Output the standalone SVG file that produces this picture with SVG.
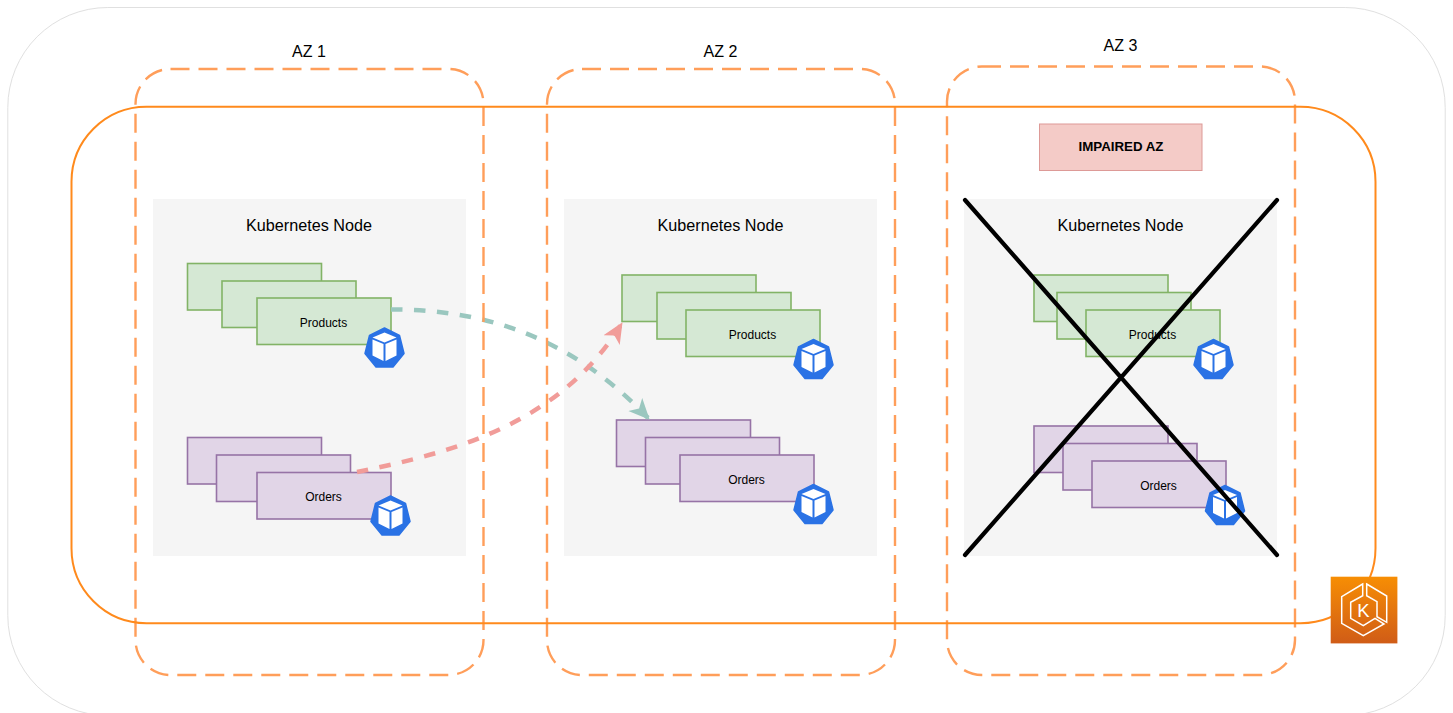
<svg xmlns="http://www.w3.org/2000/svg" width="1453" height="713" viewBox="0 0 1453 713">
<style>
text{font-family:"Liberation Sans",Arial,sans-serif;fill:#000;text-anchor:middle}
.az{font-size:16px}.kn{font-size:16.2px}.pl{font-size:12px}
.zone{fill:none;stroke:#ff9e5a;stroke-width:2.4;stroke-dasharray:19 9}
.node{fill:#f5f5f5}
.g{fill:#d5e8d4;stroke:#82b366;stroke-width:1.6}
.p{fill:#e1d5e7;stroke:#9673a6;stroke-width:1.6}
.x{stroke:#000;stroke-width:4.200;stroke-linecap:round;fill:none}
.c{fill:none;stroke-width:4.500;stroke-dasharray:11.500 11.500}
</style>
<defs>
<marker id="ag" viewBox="0 0 22 22" refX="20" refY="11" markerWidth="22" markerHeight="22" markerUnits="userSpaceOnUse" orient="auto"><path d="M0 1.500L21 11L0 20.500L5.500 11Z" fill="#9ac7bf"/></marker>
<marker id="ar" viewBox="0 0 22 22" refX="20" refY="11" markerWidth="22" markerHeight="22" markerUnits="userSpaceOnUse" orient="auto"><path d="M0 1.500L21 11L0 20.500L5.500 11Z" fill="#f19c99"/></marker>
<linearGradient id="eks" x1="0" y1="0" x2="0" y2="1"><stop offset="0" stop-color="#f78e04"/><stop offset="1" stop-color="#d05c17"/></linearGradient>
<g id="pod">
<path d="M0 -19.500L15 -12L19.500 6L8.500 19.500L-8.500 19.500L-19.500 6L-15 -12Z" fill="#2a72e5" stroke="#2a72e5" stroke-width="1.500" stroke-linejoin="round"/>
<path d="M0 -15L12 -10L0 -5L-12 -10Z" fill="#fff"/>
<path d="M-12 -8L-1 -3.500V13.500L-12 8Z" fill="#fff"/>
<path d="M12 -8L1 -3.500V13.500L12 8Z" fill="#fff"/>
</g>
</defs>
<rect width="1453" height="713" fill="#fff"/>
<rect id="region" x="7.8" y="7.5" width="1437.4" height="708" rx="100" ry="100" fill="#fff" stroke="#e0e0e0" stroke-width="1"/>

<g id="node-az1">
<rect class="node" x="153" y="199" width="313" height="357"/>
<text class="kn" x="309" y="231">Kubernetes Node</text>
<rect class="g" x="187.500" y="263.500" width="134" height="46.500"/>
<rect class="g" x="222" y="281" width="134" height="46.500"/>
<rect class="g" x="257" y="298" width="134" height="46.500"/>
<text class="pl" x="323.500" y="327">Products</text>
<rect class="p" x="187.500" y="437.500" width="134" height="46.500"/>
<rect class="p" x="216.500" y="455" width="134" height="46.500"/>
<rect class="p" x="257" y="472.500" width="134" height="46.500"/>
<text class="pl" x="323.500" y="501">Orders</text>
<use href="#pod" x="384.500" y="347.500"/>
<use href="#pod" x="390.500" y="515.500"/>
</g>
<g id="node-az2">
<rect class="node" x="564" y="199" width="313" height="357"/>
<text class="kn" x="720.500" y="231">Kubernetes Node</text>
<rect class="g" x="622" y="275" width="134" height="46.500"/>
<rect class="g" x="657" y="292.500" width="134" height="46.500"/>
<rect class="g" x="686" y="310" width="134" height="46.500"/>
<text class="pl" x="752.500" y="338.500">Products</text>
<rect class="p" x="616.500" y="420" width="134" height="46.500"/>
<rect class="p" x="645.500" y="437.500" width="134" height="46.500"/>
<rect class="p" x="680" y="455" width="134" height="46.500"/>
<text class="pl" x="746.500" y="483.500">Orders</text>
<use href="#pod" x="813.500" y="359"/>
<use href="#pod" x="813.500" y="504"/>
</g>
<g id="node-az3">
<rect class="node" x="964" y="199" width="313" height="357"/>
<text class="kn" x="1120.500" y="231">Kubernetes Node</text>
<rect class="g" x="1034" y="275" width="134" height="46.500"/>
<rect class="g" x="1057" y="292.500" width="134" height="46.500"/>
<rect class="g" x="1086" y="310" width="134" height="46.500"/>
<text class="pl" x="1152.500" y="338.500">Products</text>
<rect class="p" x="1034" y="426" width="134" height="46.500"/>
<rect class="p" x="1063" y="443.500" width="134" height="46.500"/>
<rect class="p" x="1092" y="461" width="134" height="46.500"/>
<text class="pl" x="1158.500" y="489.500">Orders</text>
<use href="#pod" x="1213.500" y="359"/>
<use href="#pod" x="1225" y="505"/>
<path class="x" d="M965 200L1277 555M1277 200L965 555"/>
</g>
<g id="node-impaired">
<rect x="1039.500" y="124" width="162.500" height="46.500" fill="#f4cbc7" stroke="#dd9a97" stroke-width="1"/>
<text x="1121" y="151" font-size="13.300" font-weight="700">IMPAIRED AZ</text>
</g>

<g id="connectors">
<path class="c" stroke="#9ac7bf" marker-end="url(#ag)" d="M391 309.500C480 309 570 335 649 419"/>
<path class="c" stroke="#f19c99" marker-end="url(#ar)" d="M357 472C450 453 560 425 622 323"/>
</g>

<g id="zones">
<rect class="zone" x="135.500" y="69" width="348" height="606" rx="35"/>
<rect class="zone" x="547" y="69" width="348" height="606" rx="35"/>
<rect class="zone" x="947" y="66.500" width="348" height="608.500" rx="35"/>
<text class="az" x="309" y="57">AZ 1</text>
<text class="az" x="720.500" y="57">AZ 2</text>
<text class="az" x="1120.500" y="51">AZ 3</text>
</g>
<rect id="cluster" x="71.500" y="106.800" width="1304" height="516.400" rx="75" fill="none" stroke="#ff8a1c" stroke-width="2"/>
<g id="node-eks">
<rect x="1330.700" y="576.700" width="66.700" height="66.700" fill="url(#eks)"/>
<g fill="none" stroke="#fff" stroke-width="1.500">
<path d="M1362.700 584L1341.700 596.700V623.300L1363.300 635.700L1384 624L1375 618.300L1363.300 625.700L1350.700 618.300V602.300L1362.700 595.700Z"/>
<path d="M1366.700 584L1386.700 596V622.300L1377 616.700V601.700L1366.700 595.700Z"/>
</g>
<text x="1363.300" y="616.700" font-size="18.500" style="fill:#fff">K</text>
</g>
</svg>
